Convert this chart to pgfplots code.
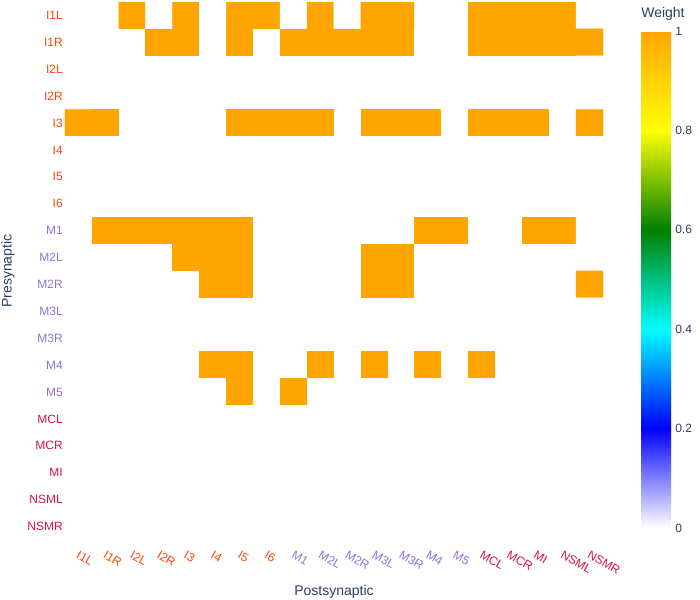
\documentclass[border=0pt]{standalone}
\usepackage{fontspec}
\setmainfont{Liberation Sans}
\usepackage{pgfplots}
\pgfplotsset{compat=1.18}

\definecolor{ilab}{HTML}{FF4500}
\definecolor{mlab}{HTML}{9370DB}
\definecolor{olab}{HTML}{DC143C}
\definecolor{txt}{HTML}{2A3F5F}
\definecolor{edge}{HTML}{EBF0F8}

\newcommand{\labI}[1]{\textcolor{ilab}{#1}}
\newcommand{\labM}[1]{\textcolor{mlab}{#1}}
\newcommand{\labO}[1]{\textcolor{olab}{#1}}

\begin{document}
\begin{tikzpicture}
\path (0,0) rectangle (525pt,450pt);
\begin{axis}[
    at={(48.75pt,45pt)}, anchor=south west,
    scale only axis, width=403.5pt, height=403.5pt,
    xmin=-0.5, xmax=19.5, ymin=-0.5, ymax=19.5,
    y dir=reverse,
    axis line style={draw=none},
    tick style={draw=none},
    xtick={0,...,19}, ytick={0,...,19},
    xticklabels={\labI{I1L},\labI{I1R},\labI{I2L},\labI{I2R},\labI{I3},\labI{I4},\labI{I5},\labI{I6},
        \labM{M1},\labM{M2L},\labM{M2R},\labM{M3L},\labM{M3R},\labM{M4},\labM{M5},
        \labO{MCL},\labO{MCR},\labO{MI},\labO{NSML},\labO{NSMR}},
    yticklabels={\labI{I1L},\labI{I1R},\labI{I2L},\labI{I2R},\labI{I3},\labI{I4},\labI{I5},\labI{I6},
        \labM{M1},\labM{M2L},\labM{M2R},\labM{M3L},\labM{M3R},\labM{M4},\labM{M5},
        \labO{MCL},\labO{MCR},\labO{MI},\labO{NSML},\labO{NSMR}},
    xticklabel style={rotate=-30, anchor=north west, inner sep=0pt,
        xshift=4.5pt, yshift=-6pt, font=\fontsize{9}{10}\selectfont},
    yticklabel style={anchor=east, inner sep=0pt, xshift=-1.5pt,
        font=\fontsize{9}{10}\selectfont},
    xlabel={Postsynaptic}, ylabel={Presynaptic},
    xlabel style={at={(axis description cs:0.5,-0.0967)}, anchor=center,
        inner sep=0pt, font=\fontsize{10.5}{12}\selectfont, text=txt},
    ylabel style={at={(axis description cs:-0.106,0.5)}, anchor=center,
        inner sep=0pt, font=\fontsize{10.5}{12}\selectfont, text=txt},
    colormap={weight}{rgb255(0)=(255,255,255) rgb255(1)=(0,0,255)
        rgb255(2)=(0,255,255) rgb255(3)=(0,128,0) rgb255(4)=(255,255,0)
        rgb255(5)=(255,165,0)},
    point meta min=0, point meta max=1,
    colorbar,
    colorbar/width=22.5pt,
    colorbar style={
        at={(parent axis.north east)}, anchor=north west,
        xshift=20pt, yshift=-21.75pt,
        scale only axis, width=22.5pt, height=372.75pt,
        axis line style={draw=none},
        tick style={draw=none},
        ytick={0,0.2,0.4,0.6,0.8,1},
        yticklabel style={anchor=west, inner sep=0pt, xshift=3pt,
            font=\fontsize{9}{10}\selectfont, text=txt,
            /pgf/number format/assume math mode=true},
        title={Weight},
        title style={at={(0,1)}, anchor=south west, inner sep=0pt, yshift=2pt,
            font=\fontsize{10.5}{12}\selectfont, text=txt},
    },
]
\draw[edge, line width=0.75pt] (rel axis cs:0,0) -- (rel axis cs:0,1);
\draw[edge, line width=0.75pt] (rel axis cs:1,0) -- (rel axis cs:1,1);
\addplot[matrix plot*, mesh/cols=20, point meta=explicit] coordinates {
(0,0)[0] (1,0)[0] (2,0)[1] (3,0)[0] (4,0)[1] (5,0)[0] (6,0)[1] (7,0)[1] (8,0)[0] (9,0)[1] (10,0)[0] (11,0)[1] (12,0)[1] (13,0)[0] (14,0)[0] (15,0)[1] (16,0)[1] (17,0)[1] (18,0)[1] (19,0)[0]
(0,1)[0] (1,1)[0] (2,1)[0] (3,1)[1] (4,1)[1] (5,1)[0] (6,1)[1] (7,1)[0] (8,1)[1] (9,1)[1] (10,1)[1] (11,1)[1] (12,1)[1] (13,1)[0] (14,1)[0] (15,1)[1] (16,1)[1] (17,1)[1] (18,1)[1] (19,1)[1]
(0,2)[0] (1,2)[0] (2,2)[0] (3,2)[0] (4,2)[0] (5,2)[0] (6,2)[0] (7,2)[0] (8,2)[0] (9,2)[0] (10,2)[0] (11,2)[0] (12,2)[0] (13,2)[0] (14,2)[0] (15,2)[0] (16,2)[0] (17,2)[0] (18,2)[0] (19,2)[0]
(0,3)[0] (1,3)[0] (2,3)[0] (3,3)[0] (4,3)[0] (5,3)[0] (6,3)[0] (7,3)[0] (8,3)[0] (9,3)[0] (10,3)[0] (11,3)[0] (12,3)[0] (13,3)[0] (14,3)[0] (15,3)[0] (16,3)[0] (17,3)[0] (18,3)[0] (19,3)[0]
(0,4)[1] (1,4)[1] (2,4)[0] (3,4)[0] (4,4)[0] (5,4)[0] (6,4)[1] (7,4)[1] (8,4)[1] (9,4)[1] (10,4)[0] (11,4)[1] (12,4)[1] (13,4)[1] (14,4)[0] (15,4)[1] (16,4)[1] (17,4)[1] (18,4)[0] (19,4)[1]
(0,5)[0] (1,5)[0] (2,5)[0] (3,5)[0] (4,5)[0] (5,5)[0] (6,5)[0] (7,5)[0] (8,5)[0] (9,5)[0] (10,5)[0] (11,5)[0] (12,5)[0] (13,5)[0] (14,5)[0] (15,5)[0] (16,5)[0] (17,5)[0] (18,5)[0] (19,5)[0]
(0,6)[0] (1,6)[0] (2,6)[0] (3,6)[0] (4,6)[0] (5,6)[0] (6,6)[0] (7,6)[0] (8,6)[0] (9,6)[0] (10,6)[0] (11,6)[0] (12,6)[0] (13,6)[0] (14,6)[0] (15,6)[0] (16,6)[0] (17,6)[0] (18,6)[0] (19,6)[0]
(0,7)[0] (1,7)[0] (2,7)[0] (3,7)[0] (4,7)[0] (5,7)[0] (6,7)[0] (7,7)[0] (8,7)[0] (9,7)[0] (10,7)[0] (11,7)[0] (12,7)[0] (13,7)[0] (14,7)[0] (15,7)[0] (16,7)[0] (17,7)[0] (18,7)[0] (19,7)[0]
(0,8)[0] (1,8)[1] (2,8)[1] (3,8)[1] (4,8)[1] (5,8)[1] (6,8)[1] (7,8)[0] (8,8)[0] (9,8)[0] (10,8)[0] (11,8)[0] (12,8)[0] (13,8)[1] (14,8)[1] (15,8)[0] (16,8)[0] (17,8)[1] (18,8)[1] (19,8)[0]
(0,9)[0] (1,9)[0] (2,9)[0] (3,9)[0] (4,9)[1] (5,9)[1] (6,9)[1] (7,9)[0] (8,9)[0] (9,9)[0] (10,9)[0] (11,9)[1] (12,9)[1] (13,9)[0] (14,9)[0] (15,9)[0] (16,9)[0] (17,9)[0] (18,9)[0] (19,9)[0]
(0,10)[0] (1,10)[0] (2,10)[0] (3,10)[0] (4,10)[0] (5,10)[1] (6,10)[1] (7,10)[0] (8,10)[0] (9,10)[0] (10,10)[0] (11,10)[1] (12,10)[1] (13,10)[0] (14,10)[0] (15,10)[0] (16,10)[0] (17,10)[0] (18,10)[0] (19,10)[1]
(0,11)[0] (1,11)[0] (2,11)[0] (3,11)[0] (4,11)[0] (5,11)[0] (6,11)[0] (7,11)[0] (8,11)[0] (9,11)[0] (10,11)[0] (11,11)[0] (12,11)[0] (13,11)[0] (14,11)[0] (15,11)[0] (16,11)[0] (17,11)[0] (18,11)[0] (19,11)[0]
(0,12)[0] (1,12)[0] (2,12)[0] (3,12)[0] (4,12)[0] (5,12)[0] (6,12)[0] (7,12)[0] (8,12)[0] (9,12)[0] (10,12)[0] (11,12)[0] (12,12)[0] (13,12)[0] (14,12)[0] (15,12)[0] (16,12)[0] (17,12)[0] (18,12)[0] (19,12)[0]
(0,13)[0] (1,13)[0] (2,13)[0] (3,13)[0] (4,13)[0] (5,13)[1] (6,13)[1] (7,13)[0] (8,13)[0] (9,13)[1] (10,13)[0] (11,13)[1] (12,13)[0] (13,13)[1] (14,13)[0] (15,13)[1] (16,13)[0] (17,13)[0] (18,13)[0] (19,13)[0]
(0,14)[0] (1,14)[0] (2,14)[0] (3,14)[0] (4,14)[0] (5,14)[0] (6,14)[1] (7,14)[0] (8,14)[1] (9,14)[0] (10,14)[0] (11,14)[0] (12,14)[0] (13,14)[0] (14,14)[0] (15,14)[0] (16,14)[0] (17,14)[0] (18,14)[0] (19,14)[0]
(0,15)[0] (1,15)[0] (2,15)[0] (3,15)[0] (4,15)[0] (5,15)[0] (6,15)[0] (7,15)[0] (8,15)[0] (9,15)[0] (10,15)[0] (11,15)[0] (12,15)[0] (13,15)[0] (14,15)[0] (15,15)[0] (16,15)[0] (17,15)[0] (18,15)[0] (19,15)[0]
(0,16)[0] (1,16)[0] (2,16)[0] (3,16)[0] (4,16)[0] (5,16)[0] (6,16)[0] (7,16)[0] (8,16)[0] (9,16)[0] (10,16)[0] (11,16)[0] (12,16)[0] (13,16)[0] (14,16)[0] (15,16)[0] (16,16)[0] (17,16)[0] (18,16)[0] (19,16)[0]
(0,17)[0] (1,17)[0] (2,17)[0] (3,17)[0] (4,17)[0] (5,17)[0] (6,17)[0] (7,17)[0] (8,17)[0] (9,17)[0] (10,17)[0] (11,17)[0] (12,17)[0] (13,17)[0] (14,17)[0] (15,17)[0] (16,17)[0] (17,17)[0] (18,17)[0] (19,17)[0]
(0,18)[0] (1,18)[0] (2,18)[0] (3,18)[0] (4,18)[0] (5,18)[0] (6,18)[0] (7,18)[0] (8,18)[0] (9,18)[0] (10,18)[0] (11,18)[0] (12,18)[0] (13,18)[0] (14,18)[0] (15,18)[0] (16,18)[0] (17,18)[0] (18,18)[0] (19,18)[0]
(0,19)[0] (1,19)[0] (2,19)[0] (3,19)[0] (4,19)[0] (5,19)[0] (6,19)[0] (7,19)[0] (8,19)[0] (9,19)[0] (10,19)[0] (11,19)[0] (12,19)[0] (13,19)[0] (14,19)[0] (15,19)[0] (16,19)[0] (17,19)[0] (18,19)[0] (19,19)[0]
};
\end{axis}
\end{tikzpicture}
\end{document}
